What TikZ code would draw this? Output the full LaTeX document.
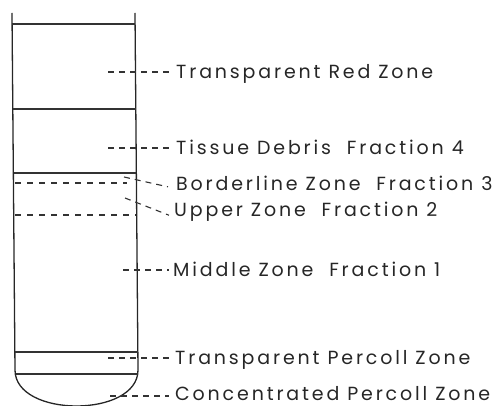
\documentclass[tikz,border=0pt]{standalone}
\usepackage{fontspec}
\newfontfamily\lblfont[LetterSpace=15]{Poppins}
\begin{document}
\begin{tikzpicture}[x=1pt,y=-1pt,
  tube/.style={line width=1.3pt, black!85},
  layer/.style={line width=1.1pt, black!80},
  dlayer/.style={line width=1.1pt, black!80, dash pattern=on 6pt off 6pt},
  leader/.style={line width=1.1pt, black!80, dash pattern=on 6pt off 5pt},
  lbl/.style={anchor=base west, inner sep=0pt, font=\lblfont\fontsize{19}{22}\selectfont, text=black!85}]
\useasboundingbox (0,0) rectangle (496,406);
% tube outline
\draw[tube] (12,13) -- (15,370) .. controls (15,418) and (138,418) .. (138,370) -- (135,13);
% layer boundaries
\draw[layer] (12,24) -- (135,24);
\draw[layer] (13,109) -- (136,109);
\draw[layer] (14,173) -- (136,173);
\draw[dlayer] (15,183) -- (127,183);
\draw[dlayer] (15,215) -- (136,215);
\draw[layer] (15,352) -- (138,352);
\draw[layer] (16,374) -- (138,374);
% labels
\node[lbl] (red) at (176,79) {Transparent Red Zone};
\node[lbl] (tissue) at (176,155) {Tissue Debris\ \ Fraction 4};
\node[lbl] (border) at (176,191) {Borderline Zone\ \ Fraction 3};
\node[lbl] (upper) at (174,217) {Upper Zone\ \ Fraction 2};
\node[lbl] (middle) at (173,277) {Middle Zone\ \ Fraction 1};
\node[lbl] (tperc) at (175,365) {Transparent Percoll Zone};
\node[lbl] (cperc) at (175,401) {Concentrated Percoll Zone};
% leader start points
\coordinate (sred) at (108,72);
\coordinate (stissue) at (108,148);
\coordinate (sborder) at (124,177);
\coordinate (supper) at (125,198);
\coordinate (smiddle) at (123,270);
\coordinate (stperc) at (108,358);
\coordinate (scperc) at (110,396);
% leaders
\draw[leader] (sred) -- ([xshift=-6pt]red.west |- sred);
\draw[leader] (stissue) -- ([xshift=-6pt]tissue.west |- stissue);
\draw[leader] (sborder) -- ([xshift=-8pt,yshift=-3pt]border.west);
\draw[leader] (supper) -- ([xshift=-5pt,yshift=-3pt]upper.west);
\draw[leader] (smiddle) -- ([xshift=-4pt]middle.west |- smiddle);
\draw[leader] (stperc) -- ([xshift=-2pt]tperc.west |- stperc);
\draw[leader] (scperc) -- ([xshift=-6pt]cperc.west |- scperc);
\end{tikzpicture}
\end{document}
